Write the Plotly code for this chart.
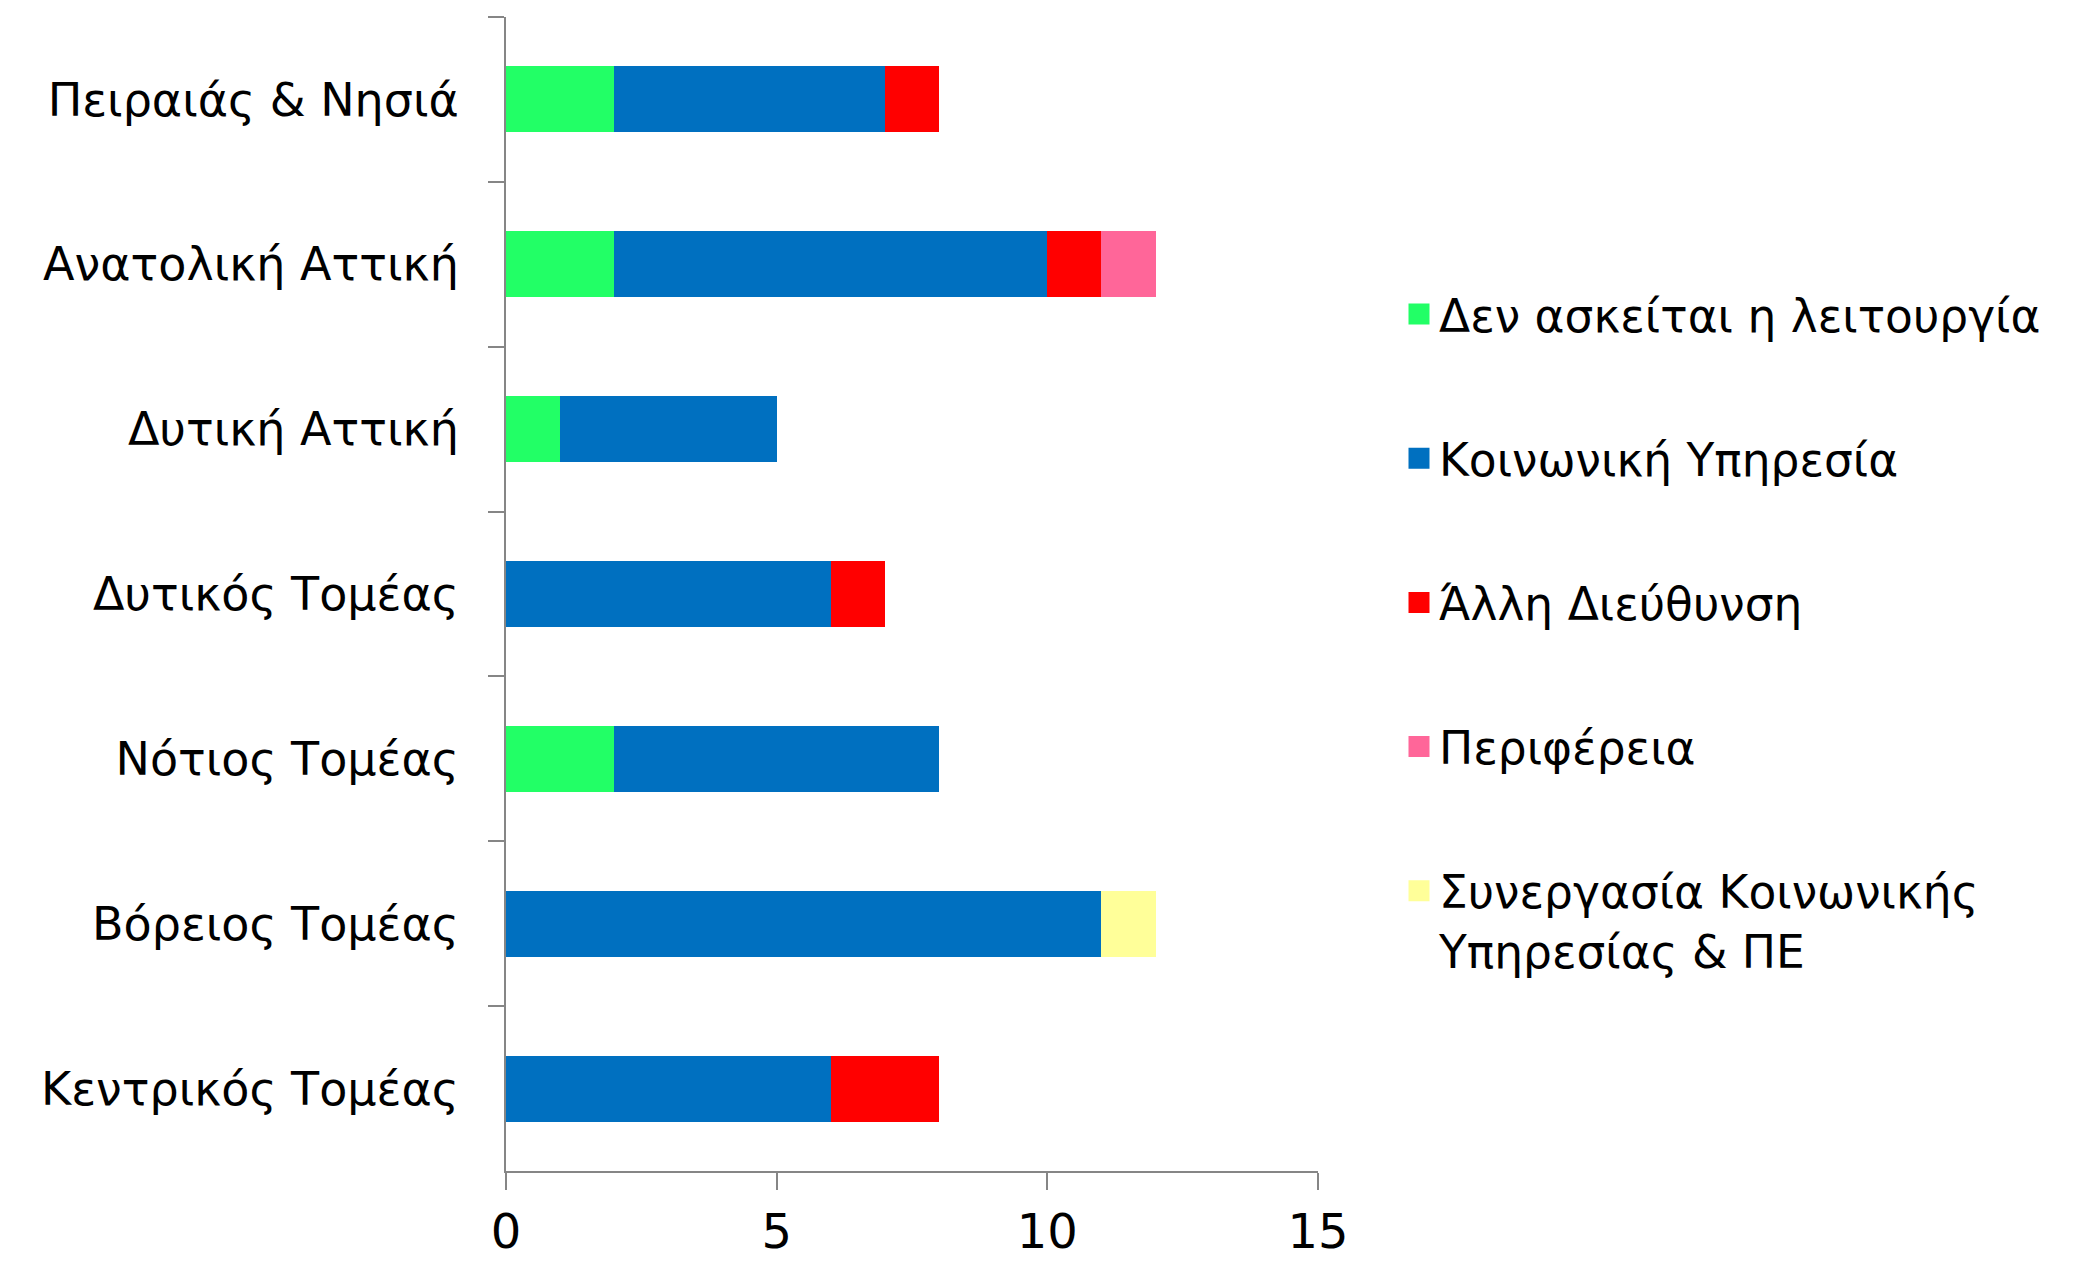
import plotly.graph_objects as go

categories = ["Πειραιάς & Νησιά", "Ανατολική Αττική", "Δυτική Αττική", "Δυτικός Τομέας",
              "Νότιος Τομέας", "Βόρειος Τομέας", "Κεντρικός Τομέας"]
series_names = ["Δεν ασκείται η λειτουργία", "Κοινωνική Υπηρεσία", "Άλλη Διεύθυνση",
                "Περιφέρεια", "Συνεργασία Κοινωνικής<br>Υπηρεσίας & ΠΕ"]
den_askeitai = [2, 2, 1, 0, 2, 0, 0]
koinoniki = [5, 8, 4, 6, 6, 11, 6]
alli = [1, 1, 0, 1, 0, 0, 2]
perifereia = [0, 1, 0, 0, 0, 0, 0]
synergasia = [0, 0, 0, 0, 0, 1, 0]
colors = ["#22FF66", "#0070C0", "#FF0000", "#FF6699", "#FFFF99"]
x_ticks = [0, 5, 10, 15]

# the page body adds an 8px margin around the figure
OFF = 8
W, H = 2095 - 2 * OFF, 1266 - 2 * OFF
L = 506 - OFF
T = 17 - OFF
R = W - (1318 - OFF)
B = H - (1171 - OFF)
FONT = "DejaVu Sans, Verdana, sans-serif"

fig = go.Figure()
all_series = [den_askeitai, koinoniki, alli, perifereia, synergasia]
for i, (name, vals) in enumerate(zip(series_names, all_series)):
    fig.add_trace(go.Bar(
        y=categories, x=vals, name=name, orientation="h",
        marker=dict(color=colors[i], line=dict(width=0)),
        legendgroup=f"g{i}", showlegend=False,
    ))
# legend entries (larger square swatches)
for i, name in enumerate(series_names):
    fig.add_trace(go.Scatter(
        x=[None], y=[None], mode="markers", name=name,
        marker=dict(symbol="square", size=16, color=colors[i],
                    line=dict(color=colors[i], width=5)),
        legendgroup=f"g{i}", showlegend=True, hoverinfo="skip",
    ))

pw = W - L - R
ph = H - T - B
fig.update_layout(
    width=W, height=H,
    margin=dict(l=L, r=R, t=T, b=B, pad=0, autoexpand=False),
    barmode="stack", bargap=0.6,
    plot_bgcolor="white", paper_bgcolor="white",
    font=dict(family=FONT, color="black"),
    legend=dict(
        x=(1399 - OFF - L) / pw, xanchor="left",
        y=1 - (278 - OFF - T) / ph, yanchor="top",
        font=dict(size=45.5, family=FONT, color="black"),
        traceorder="grouped", tracegroupgap=82, valign="top",
        itemsizing="trace",
        bgcolor="rgba(0,0,0,0)",
    ),
    showlegend=True,
)
fig.update_xaxes(
    range=[0, 15], tickvals=x_ticks, ticktext=[str(v) for v in x_ticks],
    showgrid=False, zeroline=False, automargin=False,
    showline=True, linecolor="#868686", linewidth=2,
    ticks="outside", ticklen=17, tickcolor="#868686", tickwidth=2,
    tickfont=dict(size=48, family=FONT, color="black"),
    ticklabelstandoff=0,
)
fig.update_yaxes(
    categoryorder="array", categoryarray=categories, autorange="reversed",
    showgrid=False, zeroline=False, automargin=False,
    showline=True, linecolor="#868686", linewidth=2,
    ticks="outside", ticklen=16, tickcolor="#868686", tickwidth=2,
    tickson="boundaries",
    tickfont=dict(size=46, family=FONT, color="black"),
    ticklabelstandoff=36,
)

fig.write_html("out.html")
